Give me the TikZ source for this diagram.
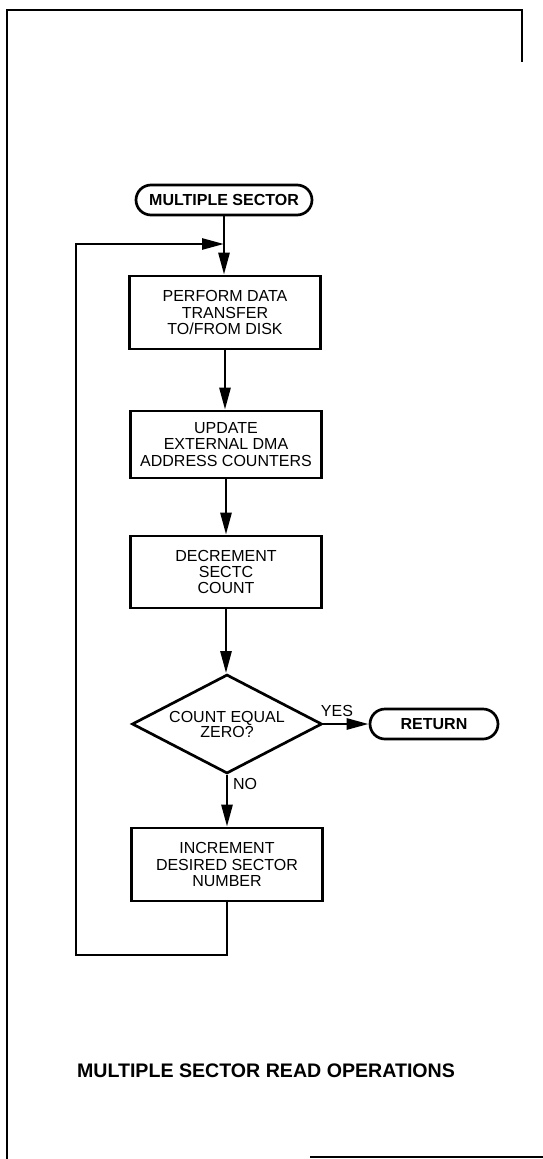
\documentclass[tikz,border=0pt]{standalone}
\usepackage{fontspec}
\setmainfont{Liberation Sans}
\usetikzlibrary{arrows.meta,shapes.geometric}
\begin{document}
\begin{tikzpicture}[x=1pt,y=-1pt,
  line width=2.7pt,
  proc/.style={draw, rectangle, minimum width=191pt, align=center,
    font=\fontsize{16}{16.3}\selectfont, inner sep=0pt},
  term/.style={draw, rounded corners=15pt, minimum height=30pt,
    font=\bfseries\fontsize{16}{18}\selectfont, inner sep=0pt},
  dec/.style={draw, diamond, aspect=2, minimum width=190pt, minimum height=99pt,
    inner sep=0pt, align=center, font=\fontsize{16}{15}\selectfont},
  flow/.style={-{Triangle[length=22pt,width=11pt]}},
  lbl/.style={font=\fontsize{16}{16}\selectfont, inner sep=0pt},
  frame/.style={line width=2.4pt}
]
\useasboundingbox (0,0) rectangle (543,1159);
% frame
\draw[frame] (7,1159) -- (7,10) -- (522,10) -- (522,62);
\draw[frame, line width=1.8pt] (310,1157) -- (543,1157);

\node[term, minimum width=176pt] (start) at (224,200) {MULTIPLE SECTOR};
\node[proc, minimum height=73pt] (p1) at (225,312.5) {PERFORM DATA\\TRANSFER\\TO/FROM DISK};
\node[proc, minimum height=67pt] (p2) at (226,444.5) {UPDATE\\EXTERNAL DMA\\ADDRESS COUNTERS};
\node[proc, minimum height=72pt] (p3) at (226,572) {DECREMENT\\SECTC\\COUNT};
\node[dec] (d) at (227,724) {COUNT EQUAL\\ZERO?};
\node[term, minimum width=128pt] (ret) at (434,724) {RETURN};
\node[proc, minimum height=73pt] (p4) at (227,864.5) {INCREMENT\\DESIRED SECTOR\\NUMBER};
\node[lbl] (yes) at (337,711) {YES};
\node[lbl] (no) at (245,784) {NO};
\node[font=\bfseries\fontsize{19.6}{22}\selectfont, inner sep=0pt] (title) at (266,1071) {MULTIPLE SECTOR READ OPERATIONS};

\coordinate (merge) at (224,244);
\coordinate (loopcorner) at (76,955);

\draw[flow] (start.south) -- (start.south |- p1.north);
\draw[flow] (p1.south) -- (p1.south |- p2.north);
\draw[flow] (p2.south) -- (p2.south |- p3.north);
\draw[flow] (p3.south) -- (p3.south |- d.north);
\draw[flow] (d.east) -- (ret.west);
\draw[flow] (d.south) -- (d.south |- p4.north);
\draw[flow] (p4.south) |- (loopcorner) |- (merge);
\end{tikzpicture}
\end{document}
